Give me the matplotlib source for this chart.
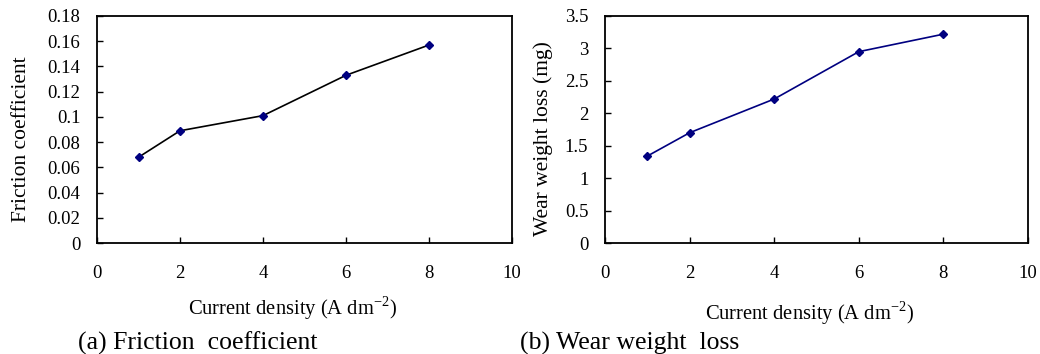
import matplotlib
matplotlib.use("Agg")
import matplotlib.pyplot as plt

plt.rcParams['font.family'] = ['Liberation Serif', 'DejaVu Serif']

current_density = [1, 2, 4, 6, 8]
friction_coef = [0.068, 0.089, 0.101, 0.133, 0.157]
wear_loss = [1.34, 1.70, 2.22, 2.95, 3.22]

x_ticks = [0, 2, 4, 6, 8, 10]
y1_ticks = [0, 0.02, 0.04, 0.06, 0.08, 0.1, 0.12, 0.14, 0.16, 0.18]
y1_labels = ['0', '0.02', '0.04', '0.06', '0.08', '0.1', '0.12', '0.14', '0.16', '0.18']
y2_ticks = [0, 0.5, 1, 1.5, 2, 2.5, 3, 3.5]
y2_labels = ['0', '0.5', '1', '1.5', '2', '2.5', '3', '3.5']

W, H = 1040, 354
fig = plt.figure(figsize=(W / 100, H / 100), dpi=100)

def px_axes(l, t, r, b):
    return fig.add_axes([l / W, 1 - b / H, (r - l) / W, (b - t) / H])

ax1 = px_axes(97, 16, 512, 243)
ax2 = px_axes(605, 16, 1028, 243)

navy = '#000080'
tick_fs = 13.5

for ax, y, lc, yt, yl, ymax in [
    (ax1, friction_coef, 'black', y1_ticks, y1_labels, 0.18),
    (ax2, wear_loss, navy, y2_ticks, y2_labels, 3.5),
]:
    ax.plot(current_density, y, color=lc, lw=1.2, marker='D', ms=4,
            mfc=navy, mec=navy, zorder=3)
    ax.set_xlim(0, 10)
    ax.set_ylim(0, ymax)
    ax.set_xticks(x_ticks)
    ax.set_xticklabels([str(v) for v in x_ticks])
    ax.set_yticks(yt)
    ax.set_yticklabels(yl)
    ax.tick_params(axis='x', direction='in', length=4, width=1, pad=16, labelsize=tick_fs)
    ax.tick_params(axis='y', direction='in', length=4, width=1, pad=12, labelsize=tick_fs)
    for s in ax.spines.values():
        s.set_linewidth(1.3)

xlab = 'Current density (A dm$^{\\mathregular{-2}}$)'
fig.text(292 / W, 1 - 308 / H, xlab, ha='center', va='center', fontsize=14.8)
fig.text(809 / W, 1 - 313 / H, xlab, ha='center', va='center', fontsize=14.8)
fig.text(22 / W, 1 - 139 / H, 'Friction coefficient', ha='center', va='center', rotation=90, fontsize=15.5)
fig.text(543 / W, 1 - 139 / H, 'Wear weight loss (mg)', ha='center', va='center', rotation=90, fontsize=15.5)
fig.text(78 / W, 1 - 343 / H, '(a) Friction  coefficient', ha='left', va='center', fontsize=18.5)
fig.text(520 / W, 1 - 343 / H, '(b) Wear weight  loss', ha='left', va='center', fontsize=18.5)

fig.savefig('out.png', dpi=100)
